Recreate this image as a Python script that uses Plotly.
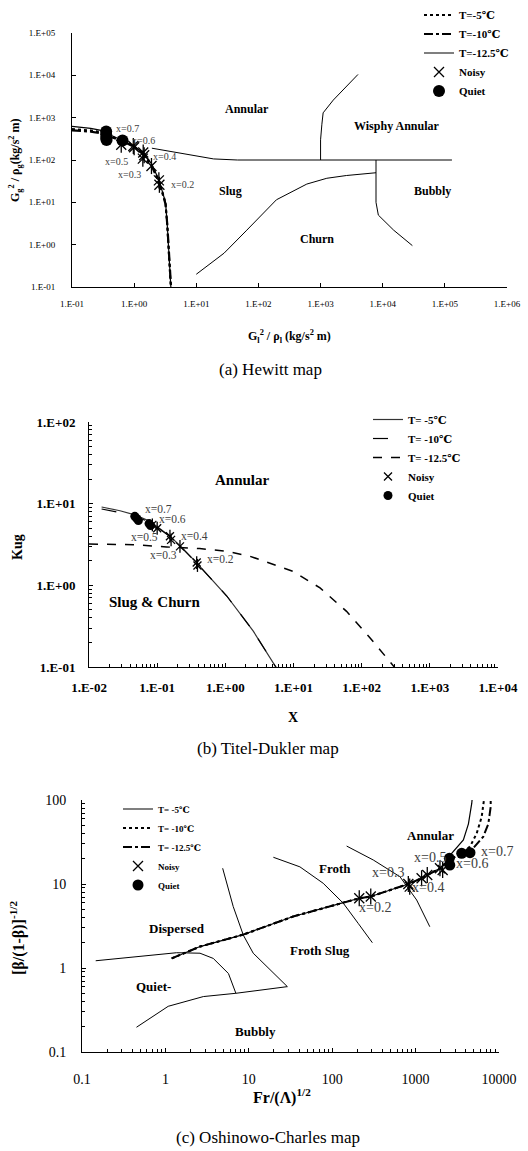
import plotly.graph_objects as go

W, H = 528, 1151
SERIF = "'Liberation Serif', 'Times New Roman', 'DejaVu Serif', serif"

# ================= DATA =================
# ---- (a) Hewitt map ----
a_t5_x = [0.1, 0.2, 0.28, 0.36, 0.5, 0.65, 1.0, 1.4, 1.9, 2.5, 2.95, 3.2, 3.4, 3.55, 3.7, 3.9]
a_t5_y = [540, 500, 460, 400, 330, 285, 210, 140, 78, 32, 15, 9.5, 3.0, 0.95, 0.33, 0.09]
a_t10_x = [0.1, 0.2, 0.28, 0.36, 0.5, 0.65, 1.0, 1.4, 1.9, 2.5, 2.95, 3.2, 3.42, 3.58, 3.75, 3.95]
a_t10_y = [500, 470, 430, 380, 320, 280, 205, 135, 75, 30, 14, 9.0, 2.9, 0.9, 0.32, 0.085]
a_t12_x = [0.1, 0.2, 0.28, 0.36, 0.5, 0.65, 1.0, 1.4, 1.9, 2.5, 2.95, 3.2, 3.4, 3.55, 3.7, 3.9]
a_t12_y = [620, 560, 510, 430, 340, 290, 215, 145, 82, 34, 16, 10, 3.2, 1.0, 0.35, 0.1]

a_noisy_x = [0.62, 0.97, 1.0, 1.4, 1.45, 1.38, 1.9, 2.5, 2.55]
a_noisy_y = [230, 215, 200, 150, 130, 108, 72, 33, 26]
a_quiet_x = [0.355, 0.355, 0.355, 0.36, 0.65]
a_quiet_y = [470, 400, 330, 295, 290]

a_annular_x = [1.93, 10, 19, 46, 1.3e5]
a_annular_y = [190, 125, 106, 100, 100]
a_wisphy_x = [1e3, 1e3, 1.05e3, 1.1e3, 1.6e3, 4e3]
a_wisphy_y = [100, 300, 700, 1300, 2600, 1.05e4]
a_churn_x = [10, 28, 65, 195, 600, 1260, 2600, 7800]
a_churn_y = [0.2, 0.63, 2.2, 11.5, 27, 37, 43, 50]
a_bubbly_x = [7800, 7800, 8500, 15000, 30000]
a_bubbly_y = [100, 10, 5, 2.2, 0.95]

a_xticks = [0.1, 1, 10, 100, 1e3, 1e4, 1e5, 1e6]
a_xtext = ["1.E-01", "1.E+00", "1.E+01", "1.E+02", "1.E+03", "1.E+04", "1.E+05", "1.E+06"]
a_yticks = [0.1, 1, 10, 100, 1e3, 1e4, 1e5]
a_ytext = ["1.E-01", "1.E+00", "1.E+01", "1.E+02", "1.E+03", "1.E+04", "1.E+05"]

# ---- (b) Titel-Dukler map ----
b_t5_x = [0.0153, 0.0285, 0.047, 0.0785, 0.154, 0.216, 0.38, 1.05, 2.57, 6.3, 7.2]
b_t5_y = [9.1, 8.2, 7.3, 6.1, 4.0, 3.06, 1.88, 0.74, 0.275, 0.085, 0.07]
b_t10_x = [0.0153, 0.0285, 0.047, 0.0785, 0.154, 0.216, 0.38, 1.05, 2.57, 6.3, 7.2]
b_t10_y = [8.6, 7.8, 7.0, 5.95, 3.95, 3.03, 1.87, 0.74, 0.275, 0.085, 0.07]
b_t12_x = [0.01, 0.045, 0.137, 0.42, 1.05, 2.3, 9.9, 24.5, 60, 133, 307, 340]
b_t12_y = [3.2, 3.15, 2.95, 2.82, 2.61, 2.27, 1.48, 0.93, 0.48, 0.227, 0.098, 0.085]

b_noisy_x = [0.085, 0.1, 0.154, 0.16, 0.216, 0.38, 0.39]
b_noisy_y = [5.5, 5.0, 4.0, 3.6, 3.0, 1.9, 1.75]
b_quiet_x = [0.047, 0.05, 0.053, 0.076, 0.08]
b_quiet_y = [7.0, 6.6, 6.2, 5.7, 5.4]

b_xticks = [0.01, 0.1, 1, 10, 100, 1e3, 1e4]
b_xtext = ["1.E-02", "1.E-01", "1.E+00", "1.E+01", "1.E+02", "1.E+03", "1.E+04"]
b_yticks = [0.1, 1, 10, 100]
b_ytext = ["1.E-01", "1.E+00", "1.E+01", "1.E+02"]

# ---- (c) Oshinowo-Charles map ----
c_common_x = [1.19, 2.6, 8.6, 34, 136, 211, 290, 818, 1180, 1380, 1960, 2400]
c_common_y = [1.3, 1.8, 2.5, 4.1, 6.0, 6.76, 7.1, 10.0, 11.7, 12.8, 15.4, 18.5]
c_t5_x = c_common_x + [2710, 3740, 4300, 4710, 4840]
c_t5_y = c_common_y + [23.2, 33.4, 52, 91, 120]
c_t10_x = c_common_x + [3000, 4490, 5400, 6200, 6600, 6650]
c_t10_y = c_common_y + [21.5, 27.8, 40, 63, 100, 120]
c_t12_x = c_common_x + [3200, 4900, 6480, 7450, 7950, 7950]
c_t12_y = c_common_y + [22, 26.6, 36.6, 52, 83, 120]

c_noisy_x = [211, 290, 818, 850, 1180, 1380, 1960, 2110]
c_noisy_y = [6.76, 7.1, 10.0, 9.3, 11.7, 12.8, 15.4, 14.7]
c_quiet_x = [2540, 2570, 3570, 4490]
c_quiet_y = [20.2, 16.8, 23.2, 23.6]

c_b1_x = [0.146, 1.36, 2.6, 3.75, 5.7, 7.0]
c_b1_y = [1.22, 1.52, 1.5, 1.3, 0.86, 0.5]
c_b2_x = [0.45, 1.08, 2.85, 7.0, 29]
c_b2_y = [0.197, 0.35, 0.457, 0.5, 0.6]
c_b3_x = [4.86, 6.5, 8.6, 11.3, 29]
c_b3_y = [15.4, 5.4, 2.46, 1.5, 0.6]
c_b4_x = [19.7, 41, 78, 136, 205, 303]
c_b4_y = [20.8, 16, 10.2, 5.9, 3.4, 2.0]
c_b5_x = [149, 311, 650, 1030, 1480]
c_b5_y = [28.3, 19.3, 12.2, 6.45, 3.1]

c_xticks = [0.1, 1, 10, 100, 1000, 10000]
c_xtext = ["0.1", "1", "10", "100", "1000", "10000"]
c_yticks = [0.1, 1, 10, 100]
c_ytext = ["0.1", "1", "10", "100"]


# ================= HELPERS =================
def px(x):
    return x / W


def py(y):
    return 1 - y / H


def minor_vals(k0, k1):
    return [m * 10 ** k for k in range(k0, k1) for m in range(2, 10)]


fig = go.Figure()


def line(x, y, xa, ya, name=None, legend=None, dash="solid", width=1.0, color="black"):
    fig.add_trace(go.Scatter(
        x=x, y=y, mode="lines", xaxis=xa, yaxis=ya,
        line=dict(color=color, width=width, dash=dash),
        name=name if name else "", showlegend=name is not None,
        legend=legend if legend else "legend", hoverinfo="skip"))


def stars(x, y, xa, ya, legend, size, name="<b>Noisy</b>"):
    fig.add_trace(go.Scatter(
        x=x, y=y, mode="markers", xaxis=xa, yaxis=ya, name=name, legend=legend,
        marker=dict(symbol="x-thin-open", size=size, color="black",
                    line=dict(width=1.3, color="black"))))
    fig.add_trace(go.Scatter(
        x=x, y=y, mode="markers", xaxis=xa, yaxis=ya, showlegend=False,
        marker=dict(symbol="line-ns-open", size=size * 1.15, color="black",
                    line=dict(width=1.3, color="black"))))


def dots(x, y, xa, ya, legend, size, name="<b>Quiet</b>"):
    fig.add_trace(go.Scatter(
        x=x, y=y, mode="markers", xaxis=xa, yaxis=ya, name=name, legend=legend,
        marker=dict(symbol="circle", size=size, color="black")))


# ---- panel (a) ----
for bx, by in [(a_annular_x, a_annular_y), (a_wisphy_x, a_wisphy_y),
               (a_churn_x, a_churn_y), (a_bubbly_x, a_bubbly_y)]:
    line(bx, by, "x", "y", width=1)
line(a_t5_x, a_t5_y, "x", "y", "<b>T=-5℃</b>", "legend", "dot", 2)
line(a_t10_x, a_t10_y, "x", "y", "<b>T=-10℃</b>", "legend", "dashdot", 2.2)
line(a_t12_x, a_t12_y, "x", "y", "<b>T=-12.5℃</b>", "legend", "solid", 1.2)
stars(a_noisy_x, a_noisy_y, "x", "y", "legend", 10)
dots(a_quiet_x, a_quiet_y, "x", "y", "legend", 12)

# ---- panel (b) ----
line(b_t5_x, b_t5_y, "x2", "y2", "<b>T= -5℃</b>", "legend2", "solid", 1.2, "#333")
line(b_t10_x, b_t10_y, "x2", "y2", "<b>T= -10℃</b>", "legend2", "longdash", 1.2)
line(b_t12_x, b_t12_y, "x2", "y2", "<b>T= -12.5℃</b>", "legend2", "dash", 1.5)
stars(b_noisy_x, b_noisy_y, "x2", "y2", "legend2", 8)
dots(b_quiet_x, b_quiet_y, "x2", "y2", "legend2", 9)

# ---- panel (c) ----
for bx, by in [(c_b1_x, c_b1_y), (c_b2_x, c_b2_y), (c_b3_x, c_b3_y),
               (c_b4_x, c_b4_y), (c_b5_x, c_b5_y)]:
    line(bx, by, "x3", "y3", width=1)
line(c_t5_x, c_t5_y, "x3", "y3", "<b>T= -5℃</b>", "legend3", "solid", 1.2)
line(c_t10_x, c_t10_y, "x3", "y3", "<b>T= -10℃</b>", "legend3", "dot", 2)
line(c_t12_x, c_t12_y, "x3", "y3", "<b>T= -12.5℃</b>", "legend3", "dashdot", 2)
stars(c_noisy_x, c_noisy_y, "x3", "y3", "legend3", 10)
dots(c_quiet_x, c_quiet_y, "x3", "y3", "legend3", 11)


def axis(domain, rng, tv, tt, fsize, bold, standoff, minor=None, anchor=None):
    d = dict(type="log", domain=domain, range=rng, tickmode="array",
             tickvals=tv, ticktext=tt, ticks="inside", ticklen=4, tickwidth=1,
             tickcolor="black", showline=True, linecolor="black", linewidth=1,
             showgrid=False, zeroline=False, anchor=anchor, automargin=False,
             ticklabelstandoff=standoff,
             tickfont=dict(family=SERIF, size=fsize, color="black",
                           weight="bold" if bold else "normal"))
    if minor is not None:
        d["minor"] = dict(tickmode="array", tickvals=minor, ticks="inside",
                          ticklen=3, tickwidth=1, tickcolor="black", showgrid=False)
    return d


fig.update_layout(
    width=W, height=H, margin=dict(l=0, r=0, t=0, b=0, autoexpand=False),
    paper_bgcolor="white", plot_bgcolor="white", showlegend=True,
    font=dict(family=SERIF, color="black"),
    xaxis=axis([px(72), px(507)], [-1, 6], a_xticks, a_xtext, 9, False, 8, anchor="y"),
    yaxis=axis([py(287), py(33)], [-1, 5], a_yticks, a_ytext, 9, False, 14, anchor="x"),
    xaxis2=axis([px(89), px(498)], [-2, 4], b_xticks, b_xtext, 13, True, 8,
                minor_vals(-2, 4), anchor="y2"),
    yaxis2=axis([py(667), py(422)], [-1, 2], b_yticks, b_ytext, 13, True, 10,
                minor_vals(-1, 2), anchor="x2"),
    xaxis3=axis([px(82), px(499)], [-1, 4], c_xticks, c_xtext, 14, False, 14,
                minor_vals(-1, 4), anchor="y3"),
    yaxis3=axis([py(1052), py(800)], [-1, 2], c_yticks, c_ytext, 14, False, 12,
                minor_vals(-1, 2), anchor="x3"),
    legend=dict(x=px(419), y=py(0.5), xanchor="left", yanchor="top",
                bgcolor="rgba(0,0,0,0)", tracegroupgap=0,
                font=dict(family=SERIF, size=11, color="black")),
    legend2=dict(x=px(368), y=py(405), xanchor="left", yanchor="top",
                 bgcolor="rgba(0,0,0,0)", tracegroupgap=0,
                 font=dict(family=SERIF, size=11, color="black")),
    legend3=dict(x=px(118), y=py(794.5), xanchor="left", yanchor="top",
                 bgcolor="rgba(0,0,0,0)", tracegroupgap=0,
                 font=dict(family=SERIF, size=9, color="black")),
)

ann = []


def text(t, x, y, size, bold=False, color="black", angle=0):
    ann.append(dict(text=t, x=px(x), y=py(y), xref="paper", yref="paper",
                    showarrow=False, textangle=angle, xanchor="center", yanchor="middle",
                    font=dict(family=SERIF, size=size, color=color,
                              weight="bold" if bold else "normal")))


# panel (a) texts
for t, x, y in [("Annular", 247, 109), ("Wisphy Annular", 396, 126), ("Slug", 230, 191),
                ("Bubbly", 432, 191), ("Churn", 317, 239)]:
    text(t, x, y, 12, True)
for t, x, y in [("x=0.7", 127, 129), ("x=0.6", 143, 140), ("x=0.5", 116, 161),
                ("x=0.4", 164, 157), ("x=0.3", 129, 175), ("x=0.2", 182, 184)]:
    text(t, x, y, 10, False, "#404040")
text("G<sub>g</sub><sup>2</sup> / ρ<sub>g</sub>(kg/s<sup>2</sup> m)", 16, 160, 12, True, angle=-90)
text("G<sub>l</sub><sup>2</sup> / ρ<sub>l</sub> (kg/s<sup>2</sup> m)", 289, 337, 12, True)
text("(a) Hewitt map", 270, 370, 17)

# panel (b) texts
text("Annular", 242, 480, 15, True)
text("Slug &amp; Churn", 155, 602, 15, True)
for t, x, y in [("x=0.7", 158, 509), ("x=0.6", 172, 519), ("x=0.5", 144, 537),
                ("x=0.4", 194, 536), ("x=0.3", 163, 555), ("x=0.2", 220, 559)]:
    text(t, x, y, 11.5, False, "#404040")
text("Kug", 17, 547, 14, True, angle=-90)
text("X", 293, 717, 14, True)
text("(b) Titel-Dukler map", 268, 748, 17)

# panel (c) texts
for t, x, y in [("Annular", 430, 835), ("Froth", 335, 868), ("Dispersed", 177, 928),
                ("Froth Slug", 320, 950), ("Quiet-", 153, 986), ("Bubbly", 255, 1031)]:
    text(t, x, y, 13, True)
for t, x, y in [("x=0.2", 375, 907), ("x=0.3", 388, 872), ("x=0.4", 428, 887),
                ("x=0.5", 430, 857), ("x=0.6", 472, 863), ("x=0.7", 497, 851)]:
    text(t, x, y, 14, False, "#404040")
text("[β/(1-β)]<sup>-1/2</sup>", 17, 938, 16, True, angle=-90)
text("Fr/(Λ)<sup>1/2</sup>", 282, 1096, 16, True)
text("(c) Oshinowo-Charles map", 268, 1137, 17)

fig.update_layout(annotations=ann)
fig.write_html("out.html", config={"displayModeBar": False},
               post_script="document.body.style.margin='0';document.body.style.overflow='hidden';")
